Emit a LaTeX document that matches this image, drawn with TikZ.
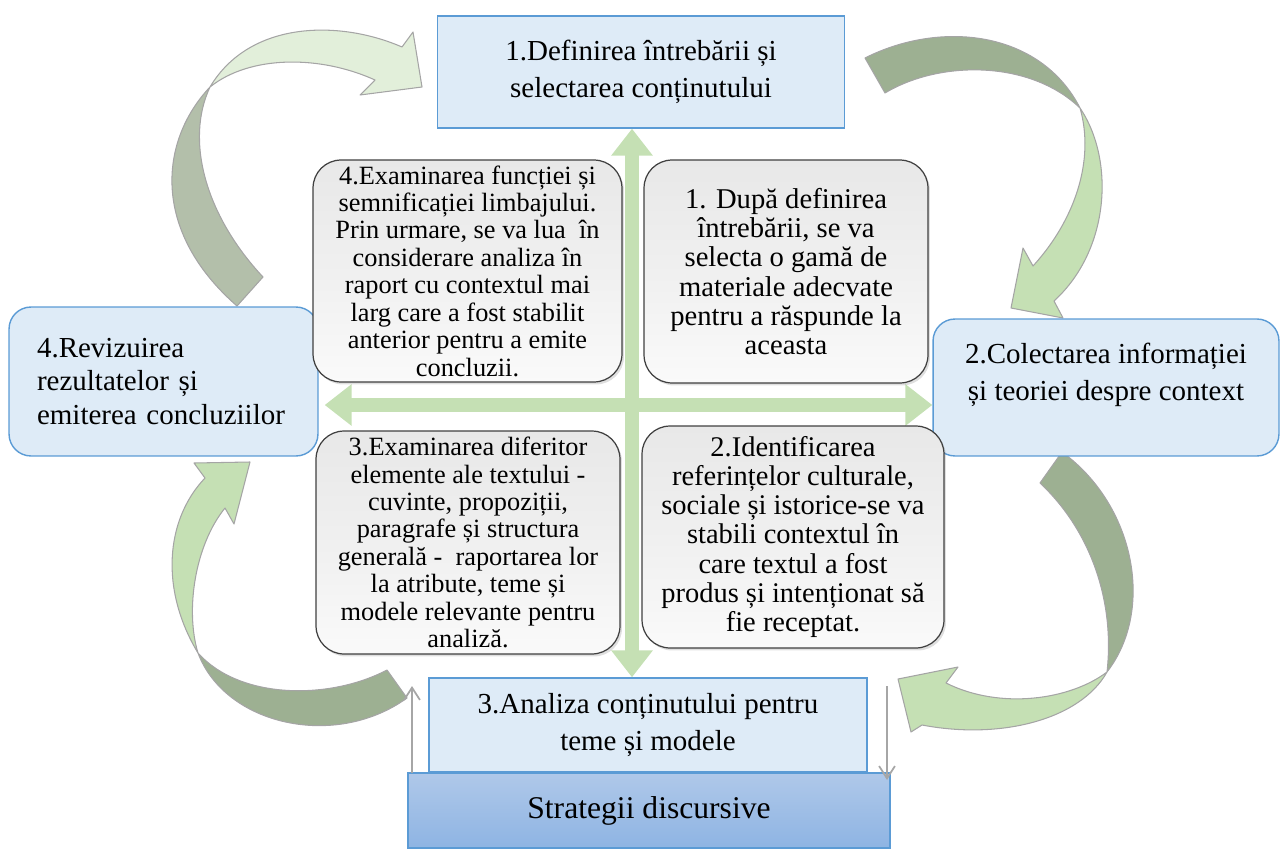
\documentclass[tikz,border=0pt]{standalone}
\usepackage{fontspec}
\setmainfont{Liberation Serif}
\usepackage{tikz}
\usepackage{xcolor}
\usetikzlibrary{calc,positioning,arrows.meta,shadows}

\definecolor{boxblue}{HTML}{DEEBF7}
\definecolor{lineblue}{HTML}{5B9BD5}
\definecolor{stratop}{HTML}{AFC8E9}
\definecolor{stratbot}{HTML}{8EB4E3}
\definecolor{crossgreen}{HTML}{C5E0B4}
\definecolor{ribdark}{HTML}{9DB092}
\definecolor{ribgray}{HTML}{B3BFAA}
\definecolor{riblight}{HTML}{C5E0B4}
\definecolor{ribpale}{HTML}{E2EFDA}
\definecolor{ribedge}{HTML}{A5A5A5}
\definecolor{thingray}{HTML}{A6A6A6}

\tikzset{
    bluebox/.style={draw=lineblue, line width=0.8pt, fill=boxblue, align=center,
        inner sep=0pt, font=\fontsize{16.5}{21}\selectfont},
    graybox/.style={draw=black!75, line width=0.7pt, rounded corners=0.56cm,
        top color=black!9, bottom color=black!2, middle color=black!6,
        drop shadow={opacity=0.25, shadow xshift=0.04cm, shadow yshift=-0.05cm},
        align=center, inner sep=0pt, font=\fontsize{15}{15.6}\selectfont},
    crossarrow/.style={draw=crossgreen, line width=0.28cm,
        arrows={Triangle[length=0.54cm,width=0.8cm]-Triangle[length=0.54cm,width=0.8cm]}},
    thinarr/.style={draw=thingray, line width=1pt, -{Straight Barb[length=7pt,width=9pt]}},
    ribbon/.style={draw=ribedge, line width=0.6pt, line join=round}
}

\begin{document}
\begin{tikzpicture}[x=0.02cm, y=-0.02cm]
    \useasboundingbox (0,0) rectangle (1280,848);

        %%curved arrows
        %%4 -> 1
        \filldraw[ribbon, fill=ribgray](263,277) -- (237,306) .. controls (150,230) and (160,140) .. (210,87)
            .. controls (185,140) and (205,215) .. (263,277) -- cycle;
        \filldraw[ribbon, fill=ribpale](210,87) .. controls (250,20) and (340,20) .. (402,47)
            -- (413,32) -- (422,87) -- (360,95) -- (375,80) .. controls (320,55) and (250,55) .. (210,87) -- cycle;
        %%1 -> 2
        \filldraw[ribbon, fill=ribdark](865,58) .. controls (940,20) and (1040,30) .. (1080,108)
            .. controls (1030,60) and (940,60) .. (885,93) -- cycle;
        \filldraw[ribbon, fill=riblight](1080,108) .. controls (1115,160) and (1110,250) .. (1054,301)
            -- (1063,318) -- (1011,308) -- (1023,248) -- (1033,266) .. controls (1075,220) and (1095,160) .. (1080,108) -- cycle;
        %%2 -> 3
        \filldraw[ribbon, fill=ribdark](1062,452) .. controls (1135,505) and (1155,610) .. (1107,672)
            .. controls (1115,600) and (1090,530) .. (1040,483) -- cycle;
        \filldraw[ribbon, fill=riblight](1107,672) .. controls (1080,720) and (1000,740) .. (922,725)
            -- (911,732) -- (898,679) -- (958,667) -- (946,683) .. controls (1000,710) and (1070,700) .. (1107,672) -- cycle;
        %%3 -> 4
        \filldraw[ribbon, fill=ribdark](387,670) -- (407,698) .. controls (335,750) and (225,725) .. (198,653)
            .. controls (240,700) and (330,700) .. (387,670) -- cycle;
        \filldraw[ribbon, fill=riblight](198,653) .. controls (160,590) and (165,520) .. (205,478)
            -- (194,463) -- (250,462) -- (234,524) -- (225,508) .. controls (195,545) and (185,610) .. (198,653) -- cycle;

        %%steps
        \node[bluebox, minimum width=8.14cm, minimum height=2.24cm] (q1) at (641,72)
            {1.Definirea întrebării și\\selectarea conținutului};
        \node[bluebox, rounded corners=0.44cm, minimum width=6.92cm, minimum height=2.74cm] (q2) at (1106,387.5) {};
            \node[align=center, font=\fontsize{16.5}{21}\selectfont] (q2txt) at ([yshift=0.26cm]q2.center)
                {2.Colectarea informației\\și teoriei despre context};
        \node[bluebox, minimum width=8.76cm, minimum height=1.88cm] (q3) at (648,725)
            {3.Analiza conținutului pentru\\teme și modele};
        \node[bluebox, rounded corners=0.44cm, minimum width=6.18cm, minimum height=2.98cm,
            text width=5.06cm, inner xsep=0.56cm, align=left, font=\fontsize{16.5}{19.3}\selectfont] (q4) at (163.5,381.5)
            {4.Revizuirea\\rezultatelor și\\emiterea concluziilor};
        \node[draw=lineblue, line width=0.8pt, top color=stratop, bottom color=stratbot, inner sep=0pt,
            minimum width=9.64cm, minimum height=1.5cm, font=\fontsize{18}{21}\selectfont] (strat) at (649,810.5)
            {\raisebox{-0.1cm}{Strategii discursive}};

        %%cross
        \coordinate (cx) at (632,405);
        \draw[crossarrow] (cx |- q1.south) -- (cx |- q3.north);
        \draw[crossarrow, shorten <=0.12cm] (q4.east |- cx) -- (q2.west |- cx);

        %%details
        \node[graybox, minimum width=6.18cm, minimum height=4.44cm] (g4) at (467.5,271)
            {4.Examinarea funcției și\\semnificației limbajului.\\Prin urmare, se va lua~ în\\considerare analiza în\\raport cu contextul mai\\larg care a fost stabilit\\anterior pentru a emite\\concluzii.};
        \node[graybox, minimum width=5.68cm, minimum height=4.46cm, font=\fontsize{16.3}{16.6}\selectfont] (g1) at (786,271.5)
            {1. După definirea\\întrebării, se va\\selecta o gamă de\\materiale adecvate\\pentru a răspunde la\\aceasta};
        \node[graybox, minimum width=6.08cm, minimum height=4.46cm] (g3) at (468,542.5)
            {3.Examinarea diferitor\\elemente ale textului -\\cuvinte, propoziții,\\paragrafe și structura\\generală -~ raportarea lor\\la atribute, teme și\\modele relevante pentru\\analiză.};
        \node[graybox, minimum width=6.04cm, minimum height=4.44cm, font=\fontsize{16.2}{16.6}\selectfont] (g2) at (793,537)
            {2.Identificarea\\referințelor culturale,\\sociale și istorice-se va\\stabili contextul în\\care textul a fost\\produs și intenționat să\\fie receptat.};

        %%thin arrows
        \coordinate (up1) at (412,773);
        \coordinate (up2) at (412,686);
            \draw[thinarr] (up1) -- (up2);
        \coordinate (dn1) at (887,686);
        \coordinate (dn2) at (887,780);
            \draw[thinarr] (dn1) -- (dn2);
\end{tikzpicture}
\end{document}
